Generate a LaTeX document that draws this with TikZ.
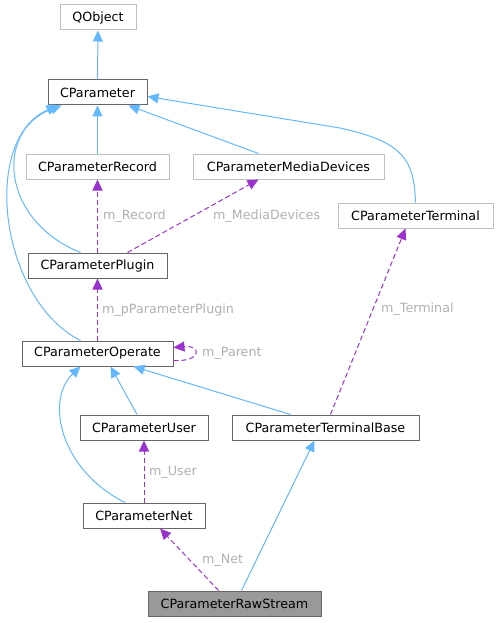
\documentclass[tikz,border=0pt]{standalone}
\usepackage{fontspec}
\setmainfont{DejaVu Sans}
\usepackage{xcolor}
\definecolor{bleuherit}{HTML}{63B8FF}
\definecolor{violetmembre}{HTML}{9A32CD}
\definecolor{bordfonce}{HTML}{666666}
\definecolor{bordclair}{HTML}{BFBFBF}
\definecolor{grisetiq}{HTML}{B0B0B0}
\usetikzlibrary{arrows.meta}

\begin{document}
\begin{tikzpicture}[x=1pt,y=-1pt,
  classe/.style={draw=bordfonce,fill=white,line width=1pt,minimum height=25pt,inner sep=0pt,font=\fontsize{12.7}{15}\selectfont},
  externe/.style={classe,draw=bordclair},
  courante/.style={classe,fill=black!40},
  herit/.style={draw=bleuherit,line width=1pt,-{Triangle[length=11pt,width=10pt]}},
  membre/.style={draw=violetmembre,line width=1pt,dash pattern=on 5pt off 3pt,-{Triangle[length=11pt,width=10pt]}},
  etiq/.style={text=grisetiq,inner sep=0pt,anchor=west,font=\fontsize{12.7}{15}\selectfont}
]
\useasboundingbox (0,0) rectangle (498,623);
\node[externe,minimum width=76pt] (qo) at (98,17.5) {QObject};
\node[classe,minimum width=99pt] (p) at (97.5,92.5) {CParameter};
\node[externe,minimum width=143pt] (rec) at (97.5,166.5) {CParameterRecord};
\node[externe,minimum width=191pt] (md) at (288.5,166.5) {CParameterMediaDevices};
\node[externe,minimum width=155pt] (t) at (415.5,215.5) {CParameterTerminal};
\node[classe,minimum width=139pt] (pl) at (97.5,265.5) {CParameterPlugin};
\node[classe,minimum width=151pt] (o) at (97.5,353.5) {CParameterOperate};
\node[classe,minimum width=128pt] (u) at (144,427.5) {CParameterUser};
\node[classe,minimum width=187pt] (tb) at (325.5,427.5) {CParameterTerminalBase};
\node[classe,minimum width=122pt] (n) at (144,515.5) {CParameterNet};
\node[courante,minimum width=173pt] (r) at (234.5,603.5) {CParameterRawStream};
% heritage
\draw[herit] (p) -- (qo);
\draw[herit] (rec) -- (p);
\draw[herit] ([xshift=-30pt]md.north) -- ([xshift=31pt]p.south);
\draw[herit] (t.north) .. controls (414,160) and (404,142) .. (340,128) -- ([yshift=-4pt]p.east);
\draw[herit] ([xshift=-17pt]pl.north) .. controls (0,220) and (-5,130) .. ([xshift=14pt]p.south west);
\draw[herit] ([xshift=-17pt]o.north) .. controls (0,300) and (-20,140) .. ([xshift=10pt]p.south west);
\draw[herit] ([xshift=-7pt]u.north) -- ([xshift=13pt]o.south);
\draw[herit] ([xshift=-35pt]tb.north) -- ([xshift=36pt]o.south);
\draw[herit] ([xshift=-19pt]n.north) .. controls (60,470) and (45,400) .. ([xshift=-17pt]o.south);
\draw[herit] ([xshift=7pt]r.north) -- ([xshift=-11pt]tb.south);
% membres
\draw[membre] (pl) -- (rec);
\draw[membre] ([xshift=30pt]pl.north) -- ([xshift=-30pt]md.south);
\draw[membre] (o) -- (pl);
\draw[membre] ([yshift=-7pt]o.east) .. controls (202,362) and (202,345) .. ([yshift=6pt]o.east);
\draw[membre] (n) -- (u);
\draw[membre] ([xshift=5pt]tb.north) -- ([xshift=-10pt]t.south);
\draw[membre] ([xshift=-16pt]r.north) -- ([xshift=16pt]n.south);
% etiquettes
\node[etiq] (lrec) at (103,216) {m\_Record};
\node[etiq] (lmd) at (213,216) {m\_MediaDevices};
\node[etiq] (lpl) at (102,310) {m\_pParameterPlugin};
\node[etiq] (lpar) at (202,353) {m\_Parent};
\node[etiq] (lu) at (149,472) {m\_User};
\node[etiq] (lt) at (381,309) {m\_Terminal};
\node[etiq] (ln) at (202,560) {m\_Net};
\end{tikzpicture}
\end{document}
